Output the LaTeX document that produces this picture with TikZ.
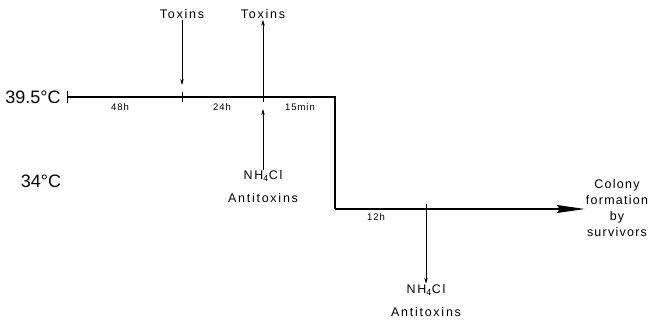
\documentclass[tikz,border=0pt]{standalone}
\usepackage{fontspec}
\setmainfont{Liberation Sans}
\usepackage{tikz}
\usetikzlibrary{positioning,arrows.meta}

\begin{document}
\begin{tikzpicture}[
  x=1pt, y=-1pt,
  temp/.style={font=\fontsize{18}{20}\selectfont,inner sep=0pt},
  agent/.style={font=\fontsize{12.5}{14}\selectfont\addfontfeatures{LetterSpace=14},inner sep=1pt},
  addn/.style={font=\fontsize{12.5}{23}\selectfont\addfontfeatures{LetterSpace=14},align=center,inner sep=1pt},
  dur/.style={font=\fontsize{9.5}{10}\selectfont\addfontfeatures{LetterSpace=10},inner sep=1pt},
  outc/.style={font=\fontsize{12.5}{16}\selectfont\addfontfeatures{LetterSpace=10},align=center,inner sep=1pt},
  line/.style={line width=1.2pt},
  tick/.style={line width=0.8pt},
  arr/.style={-{Stealth[length=6pt,width=3.5pt]},line width=0.7pt},
  bigarr/.style={-{Stealth[length=28pt,width=8pt,inset=3pt]},line width=1.2pt},
]
\useasboundingbox (0,0) rectangle (659,320);

% temperatures
\node[temp] (hot)  at (33,97)  {39.5°C};
\node[temp] (cold) at (41,181) {34°C};

% time line points
\coordinate (t0) at (67,97);
\coordinate (t1) at (182,97);
\coordinate (t2) at (263,97);
\coordinate (c1) at (335,97);
\coordinate (c2) at (335,209);
\coordinate (t3) at (426,209);

% added and removed agents
\node[agent] (toxA) at (182,14) {Toxins};
\node[agent] (toxB) at (263,14) {Toxins};
\node[addn]  (nhA)  at (263,187) {NH\textsubscript{4}Cl\\Antitoxins};
\node[addn]  (nhB)  at (426,301) {NH\textsubscript{4}Cl\\Antitoxins};
\node[outc]  (col)  at (617,208) {Colony\\formation\\by\\survivors};

% durations
\node[dur] (d48) at (120,107) {48h};
\node[dur] (d24) at (222,107) {24h};
\node[dur] (d15) at (300,107) {15min};
\node[dur] (d12) at (376,217) {12h};

% course of the experiment
\draw[line] (t0) -- (c1) -- (c2);
\draw[bigarr] (c2) -- (col.west |- c2);
\draw[tick] ([yshift=-6pt]t0) -- ([yshift=6pt]t0);
\draw[tick] ([yshift=-5pt]t1) -- ([yshift=5pt]t1);
\draw[tick] ([yshift=-5pt]t2) -- ([yshift=5pt]t2);
\draw[tick] ([yshift=-5pt]t3) -- ([yshift=5pt]t3);

\draw[arr] (toxA) -- ([yshift=12pt]t1);
\draw[arr] ([yshift=3pt]t2) -- (toxB);
\draw[arr] (nhA) -- ([yshift=-12pt]t2);
\draw[arr] ([yshift=-5pt]t3) -- (nhB);
\end{tikzpicture}
\end{document}
